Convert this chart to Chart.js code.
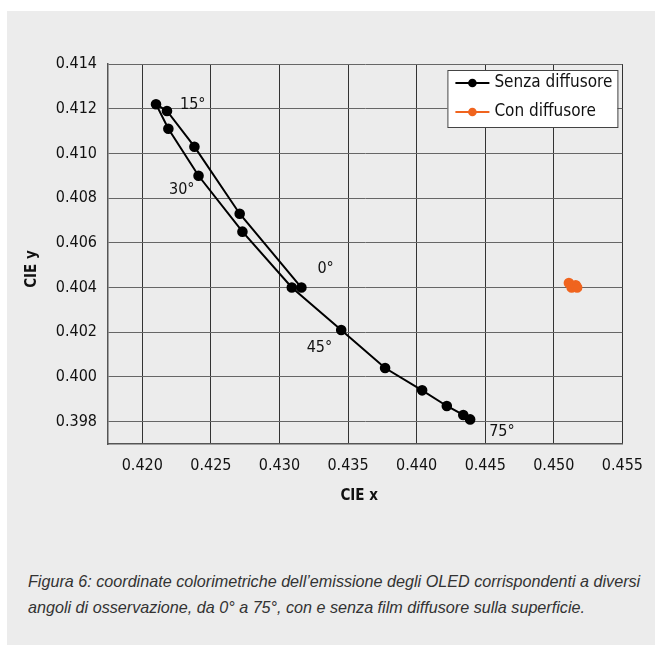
<!DOCTYPE html>
<html>
<head>
<meta charset="utf-8">
<script src="https://cdn.jsdelivr.net/npm/chart.js@4/dist/chart.umd.min.js"></script>
<style>
    html, body { margin: 0; padding: 0; background: #fff; }
    body { width: 655px; height: 645px; position: relative; overflow: hidden; }
    #panel { position: absolute; left: 7px; top: 11px; width: 648px; height: 634px; background: #ececec; }
    #wrap { position: absolute; left: 0; top: 0; width: 655px; height: 530px; }
    #caption {
        position: absolute; left: 28px; top: 569px; margin: 0;
        font-family: 'Liberation Sans', Arial, sans-serif;
        font-style: italic; font-size: 17px; line-height: 26px; color: #333;
        white-space: nowrap; transform-origin: 0 0; transform: scaleX(0.95);
    }
</style>
</head>
<body>
<div id="panel"></div>
<div id="wrap"><canvas id="cieChart"></canvas></div>
<p id="caption">Figura 6: coordinate colorimetriche dell’emissione degli OLED corrispondenti a diversi<br>angoli di osservazione, da 0° a 75°, con e senza film diffusore sulla superficie.</p>

<script>
// data
const senzaX = [0.4316, 0.4271, 0.4238, 0.4218, 0.4210, 0.4219, 0.4241, 0.4273, 0.4309, 0.4345, 0.4377, 0.4404, 0.4422, 0.4434, 0.4439];
const senzaY = [0.4040, 0.4073, 0.4103, 0.4119, 0.4122, 0.4111, 0.4090, 0.4065, 0.4040, 0.4021, 0.4004, 0.3994, 0.3987, 0.3983, 0.3981];
const conX = [0.4511, 0.4513, 0.4516, 0.4517];
const conY = [0.4042, 0.4040, 0.4041, 0.4040];

const seriesNames = ['Senza diffusore', 'Con diffusore'];
const angleLabels = ['0°', '15°', '30°', '45°', '75°'];
const angleIndex = [0, 3, 6, 9, 14];

const xTicks = [0.420, 0.425, 0.430, 0.435, 0.440, 0.445, 0.450, 0.455];
const yTicks = [0.398, 0.400, 0.402, 0.404, 0.406, 0.408, 0.410, 0.412, 0.414];

const FONT = "'DejaVu Sans Condensed', Roboto, 'Liberation Sans', sans-serif";

document.addEventListener('DOMContentLoaded', () => {
    const ctx = document.getElementById('cieChart');

    // pixel offsets for the angle labels, relative to their point
    const angleOffsets = [
        { dx: 16, dy: -19, align: 'left' },
        { dx: 13, dy: -6, align: 'left' },
        { dx: -4, dy: 14, align: 'right' },
        { dx: -9, dy: 18, align: 'right' },
        { dx: 19, dy: 12, align: 'left' }
    ];

    const angleLabelPlugin = {
        id: 'angleLabels',
        afterDatasetsDraw(chart) {
            const c = chart.ctx;
            const xs = chart.scales.x, ys = chart.scales.y;
            c.save();
            c.font = '16px ' + FONT;
            c.fillStyle = '#111';
            c.textBaseline = 'middle';
            angleLabels.forEach((txt, i) => {
                const k = angleIndex[i];
                const o = angleOffsets[i];
                c.textAlign = o.align;
                c.fillText(txt, xs.getPixelForValue(senzaX[k]) + o.dx, ys.getPixelForValue(senzaY[k]) + o.dy);
            });
            c.restore();
        }
    };

    const axisTitlePlugin = {
        id: 'axisTitles',
        afterDraw(chart) {
            const c = chart.ctx;
            const a = chart.chartArea;
            c.save();
            c.font = 'bold 15px ' + FONT;
            c.fillStyle = '#111';
            c.textAlign = 'center';
            c.textBaseline = 'middle';
            c.fillText('CIE x', (a.left + a.right) / 2 - 6, a.bottom + 52);
            c.translate(32, (a.top + a.bottom) / 2 + 15);
            c.rotate(-Math.PI / 2);
            c.fillText('CIE y', 0, 0);
            c.restore();
        }
    };

    const legendBoxPlugin = {
        id: 'legendBox',
        afterDraw(chart) {
            const c = chart.ctx;
            const a = chart.chartArea;
            const w = 170, h = 57;
            const left = a.right - 5 - w, top = a.top + 6;
            c.save();
            c.fillStyle = '#fff';
            c.fillRect(left, top, w, h);
            c.strokeStyle = '#444';
            c.lineWidth = 1;
            c.strokeRect(left + 0.5, top + 0.5, w, h);
            c.font = '17px ' + FONT;
            c.textAlign = 'left';
            c.textBaseline = 'middle';
            chart.data.datasets.forEach((ds, i) => {
                const y = top + 13 + i * 29;
                c.strokeStyle = ds.borderColor;
                c.lineWidth = 2;
                c.beginPath();
                c.moveTo(left + 8, y);
                c.lineTo(left + 42, y);
                c.stroke();
                c.fillStyle = ds.backgroundColor;
                c.beginPath();
                c.arc(left + 25, y, 4.3, 0, Math.PI * 2);
                c.fill();
                c.fillStyle = '#111';
                c.fillText(ds.label, left + 47, y);
            });
            c.restore();
        }
    };

    const data = {
        datasets: [
            {
                label: seriesNames[0],
                data: senzaX.map((x, i) => ({ x: x, y: senzaY[i] })),
                borderColor: '#000',
                backgroundColor: '#000',
                borderWidth: 2,
                pointRadius: 4.3,
                showLine: true
            },
            {
                label: seriesNames[1],
                data: conX.map((x, i) => ({ x: x, y: conY[i] })),
                borderColor: '#f0641e',
                backgroundColor: '#f0641e',
                borderWidth: 2,
                pointRadius: 4.3,
                showLine: true
            }
        ]
    };

    const config = {
        type: 'scatter',
        data: data,
        options: {
            responsive: true,
            maintainAspectRatio: false,
            animation: false,
            layout: { padding: { top: 64, right: 29, left: 0, bottom: 0 } },
            plugins: {
                legend: { display: false },
                tooltip: { enabled: false }
            },
            scales: {
                x: {
                    type: 'linear',
                    min: 0.4175,
                    max: 0.455,
                    afterBuildTicks: s => { s.ticks = xTicks.map(v => ({ value: v })); },
                    afterFit: s => { s.height = 86; },
                    grid: { color: '#333', lineWidth: 1, drawTicks: false },
                    border: { color: '#555', width: 1.5 },
                    ticks: {
                        padding: 12,
                        color: '#111',
                        font: { family: FONT, size: 16 },
                        callback: v => v.toFixed(3)
                    }
                },
                y: {
                    type: 'linear',
                    min: 0.397,
                    max: 0.414,
                    afterBuildTicks: s => { s.ticks = yTicks.map(v => ({ value: v })); },
                    afterFit: s => { s.width = 108; },
                    grid: { color: '#666', lineWidth: 1, drawTicks: false },
                    border: { color: '#555', width: 1.5 },
                    ticks: {
                        padding: 11,
                        color: '#111',
                        font: { family: FONT, size: 16 },
                        callback: v => v.toFixed(3)
                    }
                }
            }
        },
        plugins: [angleLabelPlugin, axisTitlePlugin, legendBoxPlugin]
    };

    new Chart(ctx, config);
});
</script>
</body>
</html>
